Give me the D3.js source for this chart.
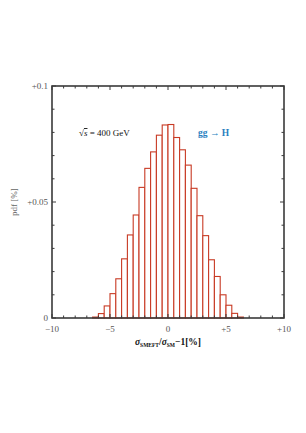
<!DOCTYPE html>
<html>
<head>
<meta charset="utf-8">
<script src="https://cdn.jsdelivr.net/npm/d3@7"></script>
<style>
  body { margin: 0; background: #fff; }
  svg text { font-family: "Liberation Serif", "DejaVu Serif", serif; }
</style>
</head>
<body>
<div class="chart"></div>
<script>
// histogram bins (lower edges, width 0.5) and pdf values
const binWidth = 0.5;
const binStarts = d3.range(-10, 10, binWidth);
const pdfValues = [
  0, 0, 0, 0, 0, 0, 0,            // -10 .. -6.5
  0.0004, 0.0019, 0.0052, 0.0105, 0.0169, 0.0255, 0.0358, 0.0444,
  0.0563, 0.0645, 0.0716, 0.0788, 0.0832,
  0.0834, 0.0778, 0.0725, 0.0659, 0.0559, 0.0441, 0.0355, 0.0251,
  0.0179, 0.0100, 0.0055, 0.0020, 0.0004,
  0, 0, 0, 0, 0, 0, 0             // 6.5 .. 10
];
const xTickValues = [-10, -5, 0, 5, 10];
const xTickLabels = ["\u221210", "\u22125", "0", "+5", "+10"];
const yTickValues = [0, 0.05, 0.1];
const yTickLabels = ["0", "+0.05", "+0.1"];

const bins = binStarts.map((s, i) => ({ x0: s, x1: s + binWidth, v: pdfValues[i] }));

// set size of the chart
const W = 306, H = 433;
const margin = { top: 86, right: 22, bottom: 115, left: 52 },
    w = W - margin.left - margin.right,
    h = H - margin.top - margin.bottom;

const svg = d3.select("div.chart")
    .append("svg")
    .attr("width", W)
    .attr("height", H);

const g = svg.append("g")
    .attr("transform", `translate(${margin.left},${margin.top})`);

const x = d3.scaleLinear().domain([-10, 10]).range([0, w]);
const y = d3.scaleLinear().domain([0, 0.1]).range([h, 0]);

// bars
g.selectAll("rect.bar")
    .data(bins)
    .enter()
    .append("rect")
    .attr("class", "bar")
    .attr("x", d => x(d.x0))
    .attr("y", d => y(d.v))
    .attr("width", d => x(d.x1) - x(d.x0))
    .attr("height", d => y(0) - y(d.v))
    .attr("fill", "#fff")
    .attr("stroke", "#c83a24")
    .attr("stroke-width", 1.1);

// ticks on all four sides, pointing inward
const frameColor = "#3a3a3a";
const xMinor = d3.range(-10, 10.01, 1);
const yMinor = d3.range(0, 0.1001, 0.01);

function isMajor(v, step) {
    return Math.abs(v / step - Math.round(v / step)) < 1e-6;
}

const ticks = g.append("g").attr("stroke", frameColor).attr("stroke-width", 1);
xMinor.forEach(v => {
    const len = isMajor(v, 5) ? 4 : 2.5;
    ticks.append("line").attr("x1", x(v)).attr("x2", x(v)).attr("y1", h).attr("y2", h - len);
    ticks.append("line").attr("x1", x(v)).attr("x2", x(v)).attr("y1", 0).attr("y2", len);
});
yMinor.forEach(v => {
    const len = isMajor(v, 0.05) ? 4 : 2.5;
    ticks.append("line").attr("y1", y(v)).attr("y2", y(v)).attr("x1", 0).attr("x2", len);
    ticks.append("line").attr("y1", y(v)).attr("y2", y(v)).attr("x1", w).attr("x2", w - len);
});

// frame
g.append("rect")
    .attr("width", w)
    .attr("height", h)
    .attr("fill", "none")
    .attr("stroke", frameColor)
    .attr("stroke-width", 1.6);

// tick labels
g.selectAll("text.xt")
    .data(xTickValues)
    .enter()
    .append("text")
    .attr("x", d => x(d))
    .attr("y", h + 14)
    .attr("text-anchor", "middle")
    .attr("font-size", "9px")
    .attr("fill", "#555")
    .text((d, i) => xTickLabels[i]);

g.selectAll("text.yt")
    .data(yTickValues)
    .enter()
    .append("text")
    .attr("x", -4)
    .attr("y", d => y(d) + 3)
    .attr("text-anchor", "end")
    .attr("font-size", "9px")
    .attr("fill", "#555")
    .text((d, i) => yTickLabels[i]);

// axis titles
svg.append("text")
    .attr("transform", `translate(17,${margin.top + y(0.05)}) rotate(-90)`)
    .attr("text-anchor", "middle")
    .attr("font-size", "9px")
    .attr("fill", "#666")
    .text("pdf [%]");

const xl = svg.append("text")
    .attr("x", margin.left + x(0))
    .attr("y", 345)
    .attr("text-anchor", "middle")
    .attr("font-size", "9.5px")
    .attr("font-weight", "bold")
    .attr("fill", "#111");
xl.append("tspan").attr("font-style", "italic").text("\u03c3");
xl.append("tspan").attr("font-size", "5.5px").attr("dy", 1.5).text("SMEFT");
xl.append("tspan").attr("dy", -1.5).text("/");
xl.append("tspan").attr("font-style", "italic").text("\u03c3");
xl.append("tspan").attr("font-size", "5.5px").attr("dy", 1.5).text("SM");
xl.append("tspan").attr("dy", -1.5).text("\u22121[%]");

// annotations
const ann = svg.append("text")
    .attr("x", 79)
    .attr("y", 136)
    .attr("font-size", "9px")
    .attr("fill", "#111");
ann.append("tspan").text("\u221a");
ann.append("tspan").attr("font-style", "italic").attr("text-decoration", "overline").text("s");
ann.append("tspan").text(" = 400 GeV");

svg.append("text")
    .attr("x", 198)
    .attr("y", 136)
    .attr("font-size", "9.5px")
    .attr("font-weight", "bold")
    .attr("fill", "#2a7fc0")
    .text("gg \u2192 H");
</script>
</body>
</html>
